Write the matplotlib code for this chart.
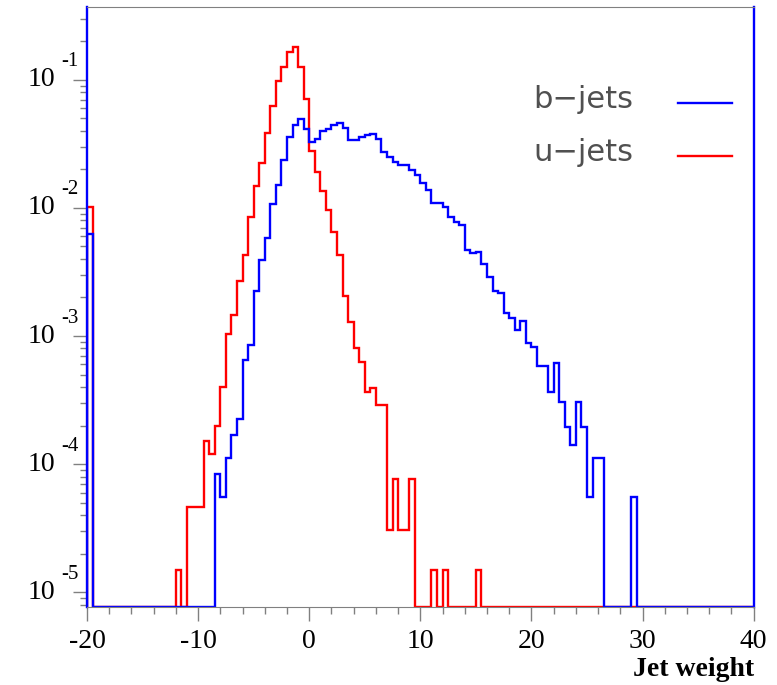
import numpy as np
import matplotlib
matplotlib.use("Agg")
import matplotlib.pyplot as plt
import matplotlib.transforms as mtransforms
from matplotlib.ticker import LogLocator, MultipleLocator, NullFormatter

plt.rcParams["axes.unicode_minus"] = False

# bin edges of both histograms (0.5 wide, -20 .. 40)
edges = np.arange(-20.0, 40.001, 0.5)

# first bin (-20 .. -19.5)
b_first = 6.2e-3
u_first = 1.02e-2

# u-jets, bins starting at -12.0
u_start = -12.0
u_vals = [1.5e-5, 0, 4.6e-5, 4.6e-5, 4.6e-5, 1.52e-4, 1.21e-4, 1.98e-4, 3.97e-4, 1.04e-3,
          1.46e-3, 2.69e-3, 4.30e-3, 8.55e-3, 1.49e-2, 2.23e-2, 3.87e-2, 6.18e-2, 9.70e-2, 0.126,
          0.163, 0.180, 0.126, 0.0703, 0.0276, 0.0189, 0.0136, 9.55e-3, 6.53e-3, 4.3e-3,
          2.05e-3, 1.29e-3, 8.0e-4, 6.26e-4, 3.64e-4, 3.96e-4, 2.89e-4, 2.89e-4, 3.05e-5, 7.6e-5,
          3.05e-5, 3.05e-5, 7.6e-5, 0, 0, 0, 1.5e-5, 0, 1.5e-5, 0,
          0, 0, 0, 0, 1.5e-5]

# b-jets, bins starting at -8.5
b_start = -8.5
b_vals = [8.45e-5, 5.55e-5, 1.12e-4, 1.69e-4, 2.25e-4, 6.49e-4, 8.5e-4, 2.26e-3, 3.93e-3, 5.80e-3,
          1.07e-2, 1.51e-2, 2.37e-2, 3.54e-2, 4.45e-2, 4.9e-2, 4.12e-2, 3.26e-2, 3.44e-2, 3.95e-2,
          4.15e-2, 4.45e-2, 4.59e-2, 4.2e-2, 3.36e-2, 3.4e-2, 3.56e-2, 3.7e-2, 3.78e-2, 3.44e-2,
          2.75e-2, 2.49e-2, 2.28e-2, 2.17e-2, 2.17e-2, 1.98e-2, 1.81e-2, 1.56e-2, 1.38e-2, 1.09e-2,
          1.09e-2, 1.02e-2, 8.55e-3, 7.82e-3, 7.36e-3, 4.66e-3, 4.43e-3, 4.56e-3, 3.65e-3, 2.90e-3,
          2.23e-3, 2.16e-3, 1.50e-3, 1.37e-3, 1.12e-3, 1.30e-3, 8.9e-4, 8.16e-4, 5.86e-4, 5.86e-4,
          3.63e-4, 6.18e-4, 3.07e-4, 1.96e-4, 1.41e-4, 3.07e-4, 1.96e-4, 5.55e-5, 1.12e-4, 1.12e-4,
          0, 0, 0, 0, 0, 5.55e-5]

labels = ["b\u2212jets", "u\u2212jets"]
exps = [-1, -2, -3, -4, -5]

ymin, ymax = 7.7e-6, 0.37


def full_hist(first, start, vals):
    h = np.zeros(len(edges) - 1)
    h[0] = first
    i0 = int(round((start - edges[0]) / 0.5))
    h[i0:i0 + len(vals)] = vals
    # empty bins are drawn on the frame bottom, like ROOT does
    return np.where(h > 0, h, ymin)


b_hist = full_hist(b_first, b_start, b_vals)
u_hist = full_hist(u_first, u_start, u_vals)

fig = plt.figure(figsize=(7.77, 6.85), dpi=100)
ax = fig.add_axes([0.112, 0.114, 0.858, 0.876])

ax.stairs(u_hist, edges, color="#ff0000", lw=1.7, baseline=ymin)
ax.stairs(b_hist, edges, color="#0000ff", lw=1.7, baseline=ymin)

ax.set_yscale("log")
ax.set_xlim(-20, 40)
ax.set_ylim(ymin, ymax)

gray = "#808080"
for s in ["top", "bottom"]:
    ax.spines[s].set_color(gray)
for s in ["left", "right"]:
    ax.spines[s].set_color("#0000ff")
    ax.spines[s].set_linewidth(1.7)

ax.xaxis.set_major_locator(MultipleLocator(10))
ax.xaxis.set_minor_locator(MultipleLocator(2))
ax.yaxis.set_major_locator(LogLocator(base=10, numticks=20))
ax.yaxis.set_minor_locator(LogLocator(base=10, subs=np.arange(2, 10), numticks=20))
ax.yaxis.set_major_formatter(NullFormatter())
ax.yaxis.set_minor_formatter(NullFormatter())
ax.tick_params(axis="both", which="major", direction="out", length=10, width=1, color=gray)
ax.tick_params(axis="both", which="minor", direction="out", length=5, width=1, color=gray)
ax.tick_params(axis="x", labelsize=20, pad=6)
for t in ax.get_xticklabels():
    t.set_family("Liberation Serif")

# y labels drawn as "10" with a raised exponent
trans = mtransforms.blended_transform_factory(ax.transAxes, ax.transData)
trans_up = mtransforms.offset_copy(trans, fig=fig, x=0, y=18, units="dots")
for e in exps:
    ax.text(-0.068, 10.0 ** e, "10", transform=trans, ha="center", va="center",
            family="Liberation Serif", fontsize=20)
    ax.text(-0.026, 10.0 ** e, str(e), transform=trans_up, ha="center", va="center",
            family="Liberation Serif", fontsize=15)

ax.text(1.0, -0.105, "Jet weight", transform=ax.transAxes, ha="right", va="center",
        family="Liberation Serif", fontsize=20, fontweight="bold")

# legend in the ROOT style: text first, line after it
leg_y = [0.845, 0.757]
for lab, col, yy in zip(labels, ["#0000ff", "#ff0000"], leg_y):
    ax.text(0.669, yy, lab, transform=ax.transAxes, ha="left", va="center",
            family="DejaVu Sans", fontsize=22, color="#505050")
    ax.plot([0.886, 0.968], [yy - 0.006, yy - 0.006], transform=ax.transAxes,
            color=col, lw=1.7)

fig.savefig("out.png", dpi=100)
